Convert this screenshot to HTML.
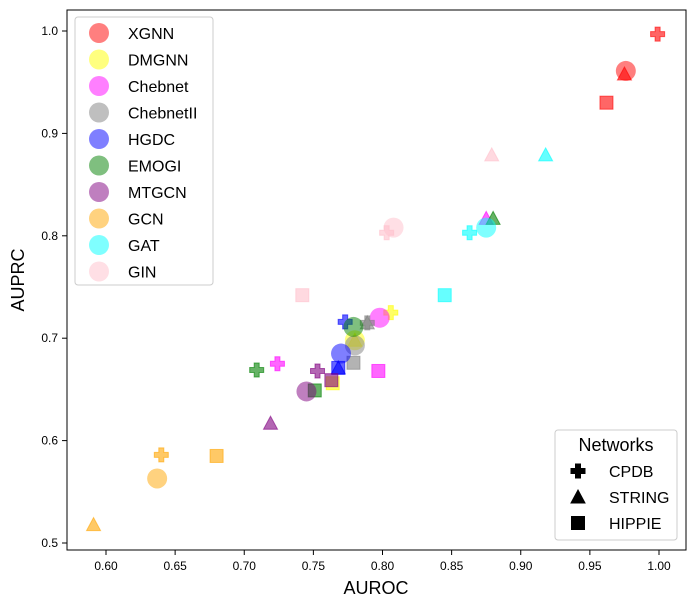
<!DOCTYPE html>
<html><head><meta charset="utf-8"><style>
html,body{margin:0;padding:0;background:#fff;}
svg{display:block;font-family:"Liberation Sans","DejaVu Sans",sans-serif;}
</style></head><body>
<svg id="chart" width="696" height="607" viewBox="0 0 696 607">
<rect x="67" y="10" width="619" height="540" fill="#fff" stroke="#000" stroke-width="1"/>
<g id="xt"></g>
<g id="yt"></g>
<g id="marks"></g>
<text x="376" y="594" font-size="18" text-anchor="middle">AUROC</text>
<text x="24" y="280" font-size="18" text-anchor="middle" transform="rotate(-90 24 280)">AUPRC</text>
<g id="legend"></g>
<g id="legend2"></g>
</svg>
<script>
const models = ["XGNN","DMGNN","Chebnet","ChebnetII","HGDC","EMOGI","MTGCN","GCN","GAT","GIN"];
const colors = ["red","yellow","magenta","gray","blue","green","purple","orange","cyan","pink"];
// [CPDB, STRING, HIPPIE] AUROC values; circle = mean
const aurocCPDB   = [0.999,0.806,0.724,0.789,0.773,0.709,0.753,0.640,0.863,0.803];
const auprcCPDB   = [0.997,0.725,0.675,0.715,0.716,0.669,0.668,0.586,0.803,0.803];
const aurocSTRING = [0.975,0.780,0.875,0.789,0.768,0.880,0.719,0.591,0.918,0.879];
const auprcSTRING = [0.958,0.698,0.817,0.715,0.671,0.817,0.617,0.518,0.879,0.879];
const aurocHIPPIE = [0.962,0.764,0.797,0.779,0.768,0.751,0.763,0.680,0.845,0.742];
const auprcHIPPIE = [0.930,0.656,0.668,0.676,0.671,0.649,0.659,0.585,0.742,0.742];
const aurocMean   = [0.976,0.780,0.798,0.780,0.770,0.779,0.745,0.637,0.875,0.808];
const auprcMean   = [0.961,0.698,0.720,0.693,0.685,0.711,0.648,0.563,0.808,0.808];
const xTicks = [0.60,0.65,0.70,0.75,0.80,0.85,0.90,0.95,1.00];
const yTicks = [0.5,0.6,0.7,0.8,0.9,1.0];

const NS="http://www.w3.org/2000/svg";
const X=v=>106+(v-0.6)*1382.5;
const Y=v=>543-(v-0.5)*1024;
function mk(t,a,p){const e=document.createElementNS(NS,t);for(const k in a)e.setAttribute(k,a[k]);p.appendChild(e);return e;}
const xt=document.getElementById('xt'),yt=document.getElementById('yt'),mg=document.getElementById('marks');
xTicks.forEach(v=>{
 const l=mk('line',{x1:X(v),x2:X(v),y1:550,y2:555,stroke:'#000'},xt);
 
 
 const t=mk('text',{x:X(v),y:570,'font-size':12,'text-anchor':'middle'},xt);t.textContent=v.toFixed(2);
 
 
});
yTicks.forEach(v=>{
 const l=mk('line',{x1:62,x2:67,y1:Y(v),y2:Y(v),stroke:'#000'},yt);
 
 
 const t=mk('text',{x:58,y:Y(v)+4,'font-size':12,'text-anchor':'end'},yt);t.textContent=v.toFixed(1);
 
 
});
function plus(cx,cy,c,p,op){return mk('path',{d:`M${cx-2.5},${cy-7}h5v4.5h4.5v5h-4.5v4.5h-5v-4.5h-4.5v-5h4.5z`,fill:c,'fill-opacity':op,stroke:c,'stroke-opacity':op,'stroke-width':1},p);}
function tri(cx,cy,c,p,op){return mk('path',{d:`M${cx},${cy-7}L${cx+7},${cy+6}L${cx-7},${cy+6}z`,fill:c,'fill-opacity':op,stroke:c,'stroke-opacity':op,'stroke-width':1},p);}
function sq(cx,cy,c,p,op){return mk('rect',{x:cx-6.5,y:cy-6.5,width:13,height:13,fill:c,'fill-opacity':op,stroke:c,'stroke-opacity':op,'stroke-width':1},p);}
models.forEach((m,i)=>{
 const c=colors[i];
 const ci=mk('circle',{cx:X(aurocMean[i]),cy:Y(auprcMean[i]),r:10,fill:c,'fill-opacity':0.5},mg);
 
 
 const a=plus(X(aurocCPDB[i]),Y(auprcCPDB[i]),c,mg,0.6);
 
 
 const b=tri(X(aurocSTRING[i]),Y(auprcSTRING[i]),c,mg,0.6);
 
 
 const d=sq(X(aurocHIPPIE[i]),Y(auprcHIPPIE[i]),c,mg,0.6);
 
 
});
const lg=document.getElementById('legend');
const lb=mk('rect',{x:75,y:17,width:138,height:268,rx:3,fill:'#fff','fill-opacity':0.8,stroke:'#ccc'},lg);


models.forEach((m,i)=>{
 const y=33+i*26.5;
 const g=mk('g',{},lg);
 
 
 mk('circle',{cx:99,cy:y,r:10,fill:colors[i],'fill-opacity':0.5},g);
 const t=mk('text',{x:128,y:y+6,'font-size':16},g);t.textContent=m;
});
const l2=document.getElementById('legend2');
const lb2=mk('rect',{x:555,y:430,width:122,height:110,rx:3,fill:'#fff','fill-opacity':0.8,stroke:'#ccc'},l2);


const tt=mk('text',{x:616,y:451,'font-size':18,'text-anchor':'middle'},l2);tt.textContent='Networks';


const nets=['CPDB','STRING','HIPPIE'],fns=[plus,tri,sq];
nets.forEach((n,i)=>{
 const y=471+i*26;
 const g=mk('g',{},l2);
 
 
 fns[i](578,y,'#000',g,1);
 const t=mk('text',{x:609,y:y+6,'font-size':16},g);t.textContent=n;
});
</script>
</body></html>
